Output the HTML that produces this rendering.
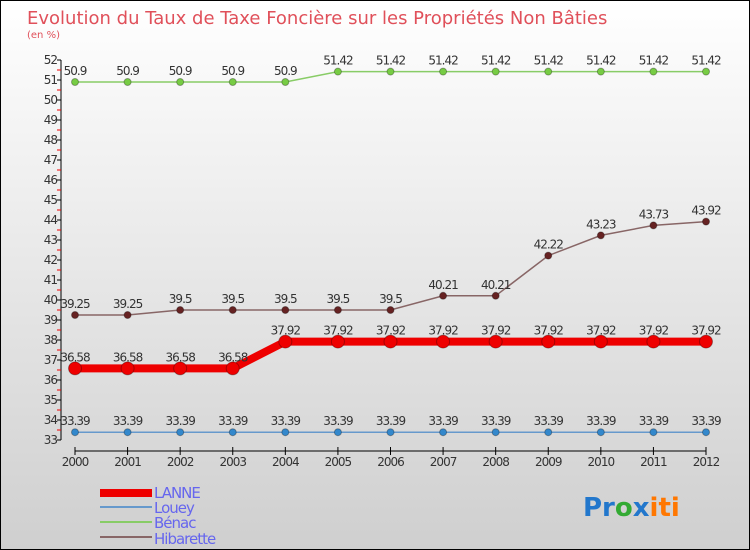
<!DOCTYPE html>
<html><head><meta charset="utf-8"><style>
body{margin:0}
#c{width:750px;height:550px;position:relative;background:linear-gradient(#ffffff,#cfcfcf);box-sizing:border-box;border:1px solid #000;font-family:"DejaVu Sans","Liberation Sans",sans-serif;overflow:hidden}
</style></head><body>
<div id="c">
<svg id="s" width="750" height="550" style="position:absolute;left:-1px;top:-1px">
<text x="27" y="24" font-size="18" fill="#e0505a">Evolution du Taux de Taxe Foncière sur les Propriétés Non Bâties</text>
<text x="27" y="38" font-size="10" fill="#e0505a">(en %)</text>
<g id="ax"></g><g id="ser"></g>
<g font-size="15" fill="#6666ee" letter-spacing="-1">
<rect x="100" y="489" width="52" height="8" fill="#ee0000"/>
<text x="154" y="498">LANNE</text>
<rect x="100" y="506" width="52" height="2" fill="#6699cc"/>
<text x="154" y="513">Louey</text>
<rect x="100" y="521" width="52" height="2" fill="#88cc66"/>
<text x="154" y="528">Bénac</text>
<rect x="100" y="536" width="52" height="2" fill="#886666"/>
<text x="154" y="544">Hibarette</text>
</g>
<text x="583" y="516" font-size="26" font-weight="bold"><tspan fill="#2277cc">Pr</tspan><tspan fill="#33aa33">o</tspan><tspan fill="#2277cc">x</tspan><tspan fill="#ff7700">iti</tspan></text>
</svg></div>
<script>
const years=[2000,2001,2002,2003,2004,2005,2006,2007,2008,2009,2010,2011,2012];
const lanne=[36.58,36.58,36.58,36.58,37.92,37.92,37.92,37.92,37.92,37.92,37.92,37.92,37.92];
const louey=[33.39,33.39,33.39,33.39,33.39,33.39,33.39,33.39,33.39,33.39,33.39,33.39,33.39];
const benac=[50.9,50.9,50.9,50.9,50.9,51.42,51.42,51.42,51.42,51.42,51.42,51.42,51.42];
const hibarette=[39.25,39.25,39.5,39.5,39.5,39.5,39.5,40.21,40.21,42.22,43.23,43.73,43.92];
const yTicks=[33,34,35,36,37,38,39,40,41,42,43,44,45,46,47,48,49,50,51,52];
const NS="http://www.w3.org/2000/svg";
const X=i=>75+i*(706-75)/(years.length-1);
const Y=v=>440-(v-33)*20;
function mk(p,t,a){const e=document.createElementNS(NS,t);for(const k in a)e.setAttribute(k,a[k]);p.appendChild(e);return e;}
const ax=document.getElementById('ax'),ser=document.getElementById('ser');
let l=mk(ax,'line',{x1:61,y1:Y(52),x2:61,y2:Y(33),stroke:'#000'});


yTicks.forEach(v=>{
 mk(ax,'line',{x1:57,x2:61,y1:Y(v),y2:Y(v),stroke:'#000'});
 if(v<52)mk(ax,'line',{x1:57,x2:61,y1:Y(v+0.5),y2:Y(v+0.5),stroke:'#ee0000'});
 const t=mk(ax,'text',{x:57,y:Y(v)+4,'text-anchor':'end','font-size':12,fill:'#333','letter-spacing':-1});
 t.textContent=v;
 
 
});
l=mk(ax,'line',{x1:X(0),x2:X(12),y1:451,y2:451,stroke:'#000'});


years.forEach((y,i)=>{
 mk(ax,'line',{x1:X(i),x2:X(i),y1:447,y2:455,stroke:'#000'});
 const t=mk(ax,'text',{x:X(i),y:466,'text-anchor':'middle','font-size':12,fill:'#333','letter-spacing':-1});
 t.textContent=y;
 
 
});
function series(name,vals,color,w,r,dot){
 const g=mk(ser,'g',{});
 
 
 mk(g,'polyline',{points:vals.map((v,i)=>X(i)+','+Y(v)).join(' '),fill:'none',stroke:color,'stroke-width':w});
 vals.forEach((v,i)=>{
  const c=mk(g,'circle',{cx:X(i),cy:Y(v),r:r,fill:dot,stroke:'rgba(0,0,0,0.3)'});
  
  
  const t=mk(g,'text',{x:X(i),y:Y(v)-7,'text-anchor':'middle','font-size':12,fill:'#333','letter-spacing':-1});
  t.textContent=v;
  
  
 });
}
series('louey',louey,'#6699cc',1.5,3.5,'#3388cc');
series('benac',benac,'#88cc66',1.5,3.5,'#77cc44');
series('hibarette',hibarette,'#886666',1.5,3.5,'#662222');
series('lanne',lanne,'#ee0000',8,6.5,'#ee0000');
</script></body></html>
